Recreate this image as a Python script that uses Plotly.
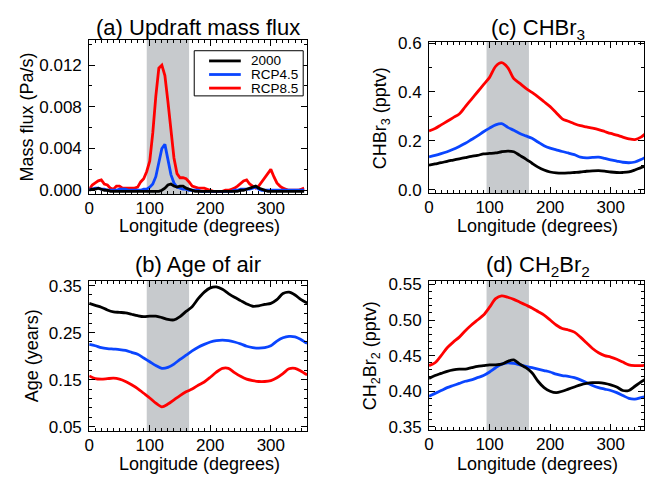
import plotly.graph_objects as go

# longitude grids (degrees)
lon_a = list(range(0, 360, 5))
lon = list(range(0, 370, 10))

# (a) updraft mass flux (Pa/s)
flux_2000 = [0.0000, 0.0001, 0.0001, 0.0002, 0.0001, 0.0000, 0.0000, -0.0001, -0.0001, -0.0001,
             -0.0001, -0.0001, -0.0001, -0.0001, -0.0001, -0.0001, -0.0001, -0.0001, -0.0001, -0.0001,
             -0.0001, -0.0001, -0.0001, -0.0001, 0.0000, 0.0002, 0.0005, 0.0006, 0.0004, 0.0003,
             0.0004, 0.0004, 0.0002, 0.0001, 0.0000, -0.0001, -0.0001, -0.0001, -0.0001, -0.0001,
             -0.0001, -0.0001, -0.0001, -0.0001, -0.0001, -0.0001, -0.0001, -0.0001, -0.0001, -0.0001,
             0.0000, 0.0000, 0.0001, 0.0002, 0.0003, 0.0004, 0.0002, 0.0001, 0.0000, -0.0001,
             -0.0001, -0.0001, -0.0001, -0.0001, -0.0001, -0.0001, -0.0001, -0.0001, -0.0001, -0.0001,
             -0.0001, -0.0001]
flux_45 = [0.0001, 0.0001, 0.0002, 0.0002, 0.0001, 0.0001, 0.0000, 0.0000, 0.0000, 0.0000,
           0.0001, 0.0001, 0.0001, 0.0000, 0.0000, 0.0000, 0.0000, 0.0000, 0.0001, 0.0001,
           0.0003, 0.0006, 0.0013, 0.0028, 0.0040, 0.0044, 0.0030, 0.0015, 0.0007, 0.0003,
           0.0002, 0.0001, 0.0001, 0.0000, 0.0000, 0.0000, 0.0000, -0.0001, -0.0001, -0.0001,
           -0.0001, -0.0001, -0.0001, -0.0001, -0.0001, -0.0001, -0.0001, -0.0001, 0.0000, 0.0000,
           0.0001, 0.0001, 0.0001, 0.0001, 0.0002, 0.0003, 0.0001, 0.0000, 0.0000, 0.0000,
           0.0000, 0.0000, 0.0000, 0.0000, 0.0000, 0.0000, 0.0000, 0.0000, 0.0000, 0.0000,
           0.0000, 0.0000]
flux_85 = [0.0001, 0.0005, 0.0007, 0.0009, 0.0010, 0.0006, 0.0005, 0.0002, 0.0001, 0.0004,
           0.0004, 0.0002, 0.0002, 0.0002, 0.0002, 0.0002, 0.0003, 0.0008, 0.0011, 0.0018,
           0.0028, 0.0055, 0.0090, 0.0117, 0.0120, 0.0110, 0.0085, 0.0057, 0.0031, 0.0016,
           0.0012, 0.0012, 0.0011, 0.0008, 0.0004, 0.0003, 0.0002, 0.0002, 0.0002, 0.0001,
           0.0000, -0.0001, -0.0001, -0.0001, -0.0001, 0.0000, 0.0000, 0.0001, 0.0002, 0.0004,
           0.0007, 0.0009, 0.0010, 0.0006, 0.0004, 0.0002, 0.0004, 0.0008, 0.0013, 0.0017,
           0.0020, 0.0013, 0.0007, 0.0004, 0.0002, 0.0001, 0.0000, 0.0000, 0.0000, 0.0000,
           0.0001, 0.0002]

# (b) age of air (years)
age_2000 = [0.312, 0.308, 0.304, 0.298, 0.294, 0.293, 0.292, 0.289, 0.286, 0.284,
            0.285, 0.285, 0.282, 0.278, 0.277, 0.284, 0.295, 0.305, 0.322, 0.336,
            0.345, 0.347, 0.342, 0.333, 0.325, 0.318, 0.311, 0.306, 0.307, 0.310,
            0.312, 0.320, 0.333, 0.336, 0.330, 0.320, 0.313]
age_45 = [0.225, 0.222, 0.218, 0.216, 0.215, 0.214, 0.212, 0.208, 0.204, 0.196,
          0.188, 0.180, 0.174, 0.176, 0.183, 0.193, 0.202, 0.211, 0.219, 0.225,
          0.230, 0.233, 0.234, 0.233, 0.230, 0.226, 0.221, 0.218, 0.217, 0.218,
          0.222, 0.232, 0.239, 0.242, 0.241, 0.235, 0.227]
age_85 = [0.158, 0.152, 0.151, 0.152, 0.153, 0.151, 0.146, 0.139, 0.131, 0.121,
          0.111, 0.100, 0.092, 0.098, 0.107, 0.116, 0.124, 0.130, 0.138, 0.145,
          0.155, 0.166, 0.174, 0.174, 0.165, 0.157, 0.151, 0.148, 0.146, 0.146,
          0.148, 0.154, 0.163, 0.173, 0.174, 0.168, 0.160]

# (c) CHBr3 (pptv)
chbr3_2000 = [0.100, 0.105, 0.110, 0.116, 0.121, 0.126, 0.131, 0.136, 0.140, 0.146,
              0.148, 0.150, 0.155, 0.158, 0.155, 0.140, 0.125, 0.108, 0.092, 0.080,
              0.072, 0.068, 0.067, 0.068, 0.070, 0.072, 0.075, 0.077, 0.078, 0.076,
              0.072, 0.070, 0.070, 0.072, 0.080, 0.090, 0.098]
chbr3_45 = [0.134, 0.140, 0.147, 0.155, 0.165, 0.177, 0.190, 0.205, 0.220, 0.237,
            0.252, 0.265, 0.270, 0.255, 0.243, 0.230, 0.220, 0.210, 0.195, 0.180,
            0.170, 0.163, 0.156, 0.150, 0.143, 0.133, 0.130, 0.132, 0.133, 0.128,
            0.122, 0.117, 0.112, 0.110, 0.113, 0.123, 0.136]
chbr3_85 = [0.240, 0.250, 0.265, 0.280, 0.295, 0.310, 0.340, 0.370, 0.400, 0.430,
            0.460, 0.505, 0.520, 0.500, 0.455, 0.435, 0.415, 0.398, 0.380, 0.360,
            0.340, 0.315, 0.290, 0.280, 0.270, 0.262, 0.257, 0.252, 0.246, 0.238,
            0.230, 0.223, 0.215, 0.208, 0.205, 0.215, 0.235]

# (d) CH2Br2 (pptv)
ch2br2_2000 = [0.418, 0.422, 0.425, 0.428, 0.430, 0.431, 0.431, 0.433, 0.435, 0.436,
               0.437, 0.437, 0.438, 0.442, 0.444, 0.438, 0.433, 0.426, 0.414, 0.405,
               0.400, 0.398, 0.400, 0.403, 0.406, 0.409, 0.411, 0.412, 0.412, 0.411,
               0.409, 0.406, 0.401, 0.401, 0.407, 0.413, 0.418]
ch2br2_45 = [0.393, 0.397, 0.401, 0.405, 0.408, 0.411, 0.414, 0.416, 0.419, 0.422,
             0.427, 0.433, 0.438, 0.440, 0.439, 0.437, 0.435, 0.433, 0.431, 0.429,
             0.427, 0.424, 0.422, 0.421, 0.419, 0.416, 0.412, 0.408, 0.405, 0.403,
             0.401, 0.398, 0.394, 0.390, 0.389, 0.391, 0.393]
ch2br2_85 = [0.436, 0.440, 0.450, 0.461, 0.469, 0.476, 0.485, 0.493, 0.500, 0.507,
             0.518, 0.530, 0.534, 0.532, 0.529, 0.525, 0.521, 0.517, 0.512, 0.507,
             0.500, 0.493, 0.488, 0.486, 0.483, 0.476, 0.468, 0.460, 0.454, 0.450,
             0.448, 0.445, 0.441, 0.437, 0.436, 0.436, 0.437]

names = ["2000", "RCP4.5", "RCP8.5"]
colors = ["#000000", "#0a45ff", "#ff0000"]
shade = (95, 165)

W, H = 645, 483
FONT = "Liberation Sans, Arial, sans-serif"


def py(p):
    return 1 - p / H


def px(p):
    return p / W


fig = go.Figure()

panels = [
    ("x", "y", lon_a, [flux_2000, flux_45, flux_85], "linear"),
    ("x2", "y2", lon, [chbr3_2000, chbr3_45, chbr3_85], "spline"),
    ("x3", "y3", lon, [age_2000, age_45, age_85], "spline"),
    ("x4", "y4", lon, [ch2br2_2000, ch2br2_45, ch2br2_85], "spline"),
]

for xa, ya, xs, series, shape in panels:
    # red first, black on top
    for i in [2, 1, 0]:
        fig.add_trace(go.Scatter(
            x=xs, y=series[i], xaxis=xa, yaxis=ya, mode="lines", name=names[i],
            line=dict(color=colors[i], width=2.8, shape=shape, smoothing=0.8),
            showlegend=False, hoverinfo="skip"))
    fig.add_shape(type="rect", xref=xa, yref=ya + " domain", x0=shade[0], x1=shade[1],
                  y0=0, y1=1, fillcolor="#c7cacd", line_width=0, layer="below")


def xaxis(dom, anchor, rng):
    return dict(domain=dom, anchor=anchor, range=rng, tickvals=[0, 100, 200, 300],
                ticks="inside", ticklen=6, tickcolor="black", showline=True, linecolor="black",
                linewidth=1, mirror="ticks", showgrid=False, zeroline=False,
                minor=dict(dtick=10, tick0=0, ticks="inside", ticklen=3, tickcolor="black"),
                tickfont=dict(size=17, color="black"), ticklabelstandoff=-2)


def yaxis(dom, anchor, rng, tickvals, fmt, minor):
    return dict(domain=dom, anchor=anchor, range=rng, tickvals=tickvals, tickformat=fmt,
                ticks="inside", ticklen=6, tickcolor="black", showline=True, linecolor="black",
                linewidth=1, mirror="ticks", showgrid=False, zeroline=False,
                minor=dict(dtick=minor, tick0=tickvals[0], ticks="inside", ticklen=3,
                           tickcolor="black"),
                tickfont=dict(size=17, color="black"), ticklabelstandoff=3)


xl = [px(85), px(305)]
xr = [px(428), 1.0]

fig.update_layout(
    width=W, height=H, margin=dict(l=0, r=0, t=0, b=0),
    paper_bgcolor="white", plot_bgcolor="white",
    font=dict(family=FONT, color="black"), showlegend=False,
    xaxis=xaxis(xl, "y", [0, 360]),
    yaxis=yaxis([py(192), py(33)], "x", [-0.0004, 0.0144], [0, 0.004, 0.008, 0.012], ".3f", 0.002),
    xaxis2=xaxis(xr, "y2", [0, 355]),
    yaxis2=yaxis([py(191), py(35)], "x2", [-0.016, 0.605], [0, 0.2, 0.4, 0.6], ".1f", 0.1),
    xaxis3=xaxis(xl, "y3", [0, 360]),
    yaxis3=yaxis([py(436), py(281)], "x3", [0.04, 0.36], [0.05, 0.15, 0.25, 0.35], ".2f", 0.02),
    xaxis4=xaxis(xr, "y4", [0, 355]),
    yaxis4=yaxis([py(435), py(281)], "x4", [0.345, 0.555], [0.35, 0.40, 0.45, 0.50, 0.55], ".2f", 0.01),
)

# legend box drawn by hand to get the tight IDL-style spacing
fig.add_shape(type="rect", xref="paper", yref="paper", x0=px(191), x1=px(301),
              y0=py(90.5), y1=py(44), line=dict(color="black", width=1), fillcolor="white")
for i, yy in enumerate([54.5, 68.5, 82.5]):
    fig.add_shape(type="line", xref="paper", yref="paper", x0=px(206), x1=px(238),
                  y0=py(yy), y1=py(yy), line=dict(color=colors[i], width=2.8))
    fig.add_annotation(text=names[i], x=px(246), y=py(yy), xref="paper", yref="paper",
                       showarrow=False, xanchor="left", yanchor="middle",
                       font=dict(size=13.5, color="black"))

titles = [
    ("(a) Updraft mass flux", 195, 20),
    ("(c) CHBr<sub>3</sub>", 538, 22),
    ("(b) Age of air", 195, 264),
    ("(d) CH<sub>2</sub>Br<sub>2</sub>", 538, 266),
]
for t, x, y in titles:
    fig.add_annotation(text=t, x=px(x), y=py(y), xref="paper", yref="paper",
                       showarrow=False, xanchor="center", yanchor="middle",
                       font=dict(size=22, color="black"))

for x, y in [(196, 225), (538, 225), (196, 470), (538, 470)]:
    fig.add_annotation(text="Longitude (degrees)", x=px(x), y=py(y), xref="paper",
                       yref="paper", showarrow=False, xanchor="center", yanchor="middle",
                       font=dict(size=18, color="black"))

ytitles = [
    ("Mass flux (Pa/s)", 22, 112),
    ("CHBr<sub>3</sub> (pptv)", 380, 113),
    ("Age (years)", 27, 358),
    ("CH<sub>2</sub>Br<sub>2</sub> (pptv)", 370, 358),
]
for t, x, y in ytitles:
    fig.add_annotation(text=t, x=px(x), y=py(y), xref="paper", yref="paper",
                       showarrow=False, xanchor="center", yanchor="middle", textangle=-90,
                       font=dict(size=18, color="black"))

fig.write_html("out.html", config={"displayModeBar": False},
               post_script="document.body.style.margin='0px';")
